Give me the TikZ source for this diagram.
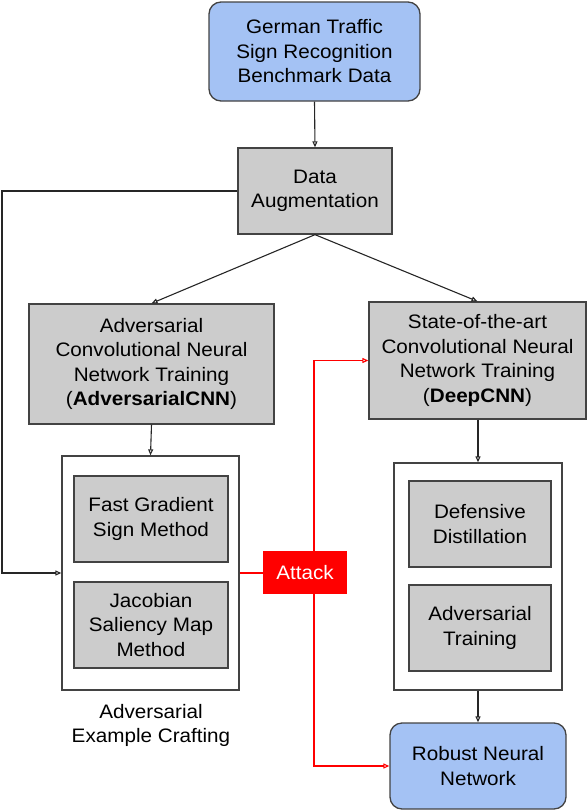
\documentclass[tikz,border=0pt]{standalone}
\usepackage{fontspec}
\setmainfont[FakeStretch=1.06]{Liberation Sans}
\usetikzlibrary{arrows.meta}
\definecolor{boxgray}{HTML}{CCCCCC}
\definecolor{boxblue}{HTML}{A4C2F4}
\definecolor{edgegray}{HTML}{434343}
\definecolor{attackred}{HTML}{FF0000}
\begin{document}
\begin{tikzpicture}[x=1pt,y=-1pt,
  every node/.style={font=\fontsize{19.5}{24.5}\selectfont, align=center, inner sep=0pt},
  graybox/.style={draw=edgegray, line width=1.3pt, fill=boxgray},
  bluebox/.style={draw=edgegray, line width=1.3pt, fill=boxblue, rounded corners=12pt},
  outerbox/.style={draw=edgegray, line width=1.3pt, fill=white},
  attackbox/.style={fill=attackred, text=white},
  conn/.style={draw=black!85, line width=1.1pt, -{Triangle[open,length=6pt,width=5pt]}},
  redconn/.style={draw=attackred, line width=1.1pt, -{Triangle[open,length=6pt,width=5pt]}},
  redplain/.style={draw=attackred, line width=1.1pt}
]
\useasboundingbox (0,0) rectangle (588,812);
\node[bluebox, minimum width=211pt, minimum height=99pt] (german) at (314.5,51.5) {German Traffic\\Sign Recognition\\Benchmark Data};
\node[graybox, minimum width=154pt, minimum height=86pt] (aug) at (315,191) {Data\\Augmentation};
\node[graybox, minimum width=245pt, minimum height=120pt] (advcnn) at (151.5,364) {Adversarial\\Convolutional Neural\\Network Training\\(\textbf{AdversarialCNN})};
\node[graybox, minimum width=217pt, minimum height=117pt] (deep) at (477.5,360.5) {State-of-the-art\\Convolutional Neural\\Network Training\\(\textbf{DeepCNN})};
\node[outerbox, minimum width=177pt, minimum height=234pt] (lout) at (150.5,573) {};
\node[graybox, minimum width=154pt, minimum height=86pt] (fgsm) at (151,519) {Fast Gradient\\Sign Method};
\node[graybox, minimum width=154pt, minimum height=86pt] (jsma) at (151,625) {Jacobian\\Saliency Map\\Method};
\node (crafting) at (151,725.5) {Adversarial\\Example Crafting};
\node[outerbox, minimum width=168pt, minimum height=227pt] (rout) at (478,576.5) {};
\node[graybox, minimum width=142pt, minimum height=86pt] (def) at (480,524) {Defensive\\Distillation};
\node[graybox, minimum width=142pt, minimum height=86pt] (advtr) at (480,628) {Adversarial\\Training};
\node[bluebox, minimum width=176pt, minimum height=86pt] (robust) at (478,766) {Robust Neural\\Network};
\node[attackbox, minimum width=84pt, minimum height=43pt] (attack) at (305,572.5) {Attack};
\coordinate (leftx) at (2,0);
\coordinate (redx) at (314,0);
\coordinate (rightx) at (478,0);
\draw[conn] (german.south) -- (aug.north);
\draw[conn] (aug.west) -| (leftx |- lout.west) -- (lout.west);
\draw[conn] (aug.south) -- (advcnn.north);
\draw[conn] (aug.south) -- (deep.north);
\draw[conn] (advcnn.south) -- (lout.north);
\draw[conn] (deep.south -| rightx) -- (rout.north -| rightx);
\draw[conn] (rout.south -| rightx) -- (robust.north -| rightx);
\draw[redplain] (lout.east) -- (lout.east -| attack.west);
\draw[redconn] (attack.north -| redx) |- (deep.west);
\draw[redconn] (attack.south -| redx) |- (robust.west);
\end{tikzpicture}
\end{document}
